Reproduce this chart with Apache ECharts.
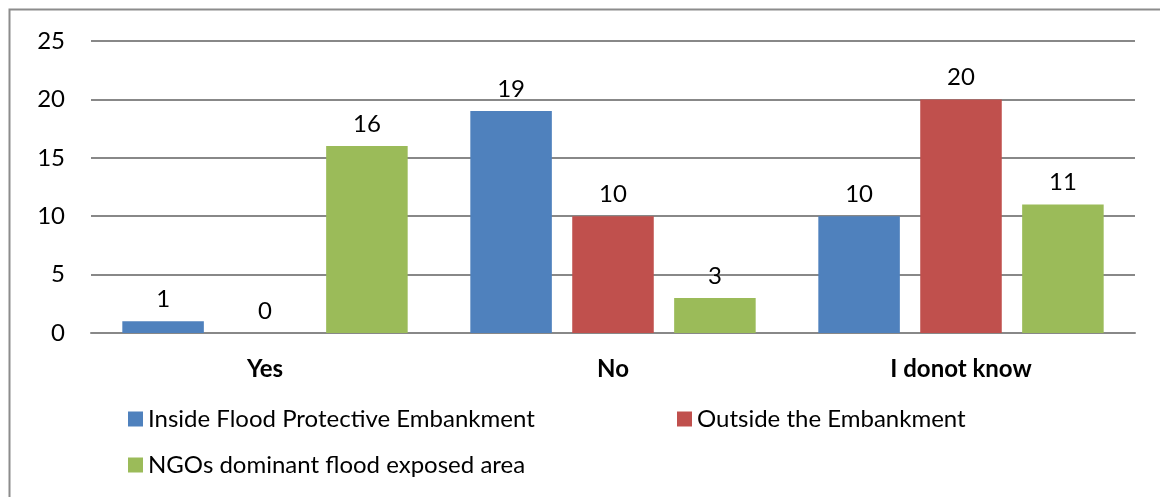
<!DOCTYPE html>
<html>
<head>
<meta charset="utf-8">
<script src="https://cdn.jsdelivr.net/npm/echarts@6/dist/echarts.min.js"></script>
<style>
  html, body { margin: 0; padding: 0; background: #fff; }
  #chart { width: 1160px; height: 497px; }
</style>
</head>
<body>
<div id="chart"></div>
<script>
// Survey responses per area
const categories = ['Yes', 'No', 'I donot know'];
const seriesNames = [
  'Inside Flood Protective Embankment',
  'Outside the Embankment',
  'NGOs dominant flood exposed area'
];
const insideValues = [1, 19, 10];
const outsideValues = [0, 10, 20];
const ngoValues = [16, 3, 11];
const yTicks = { min: 0, max: 25, interval: 5 };

const colors = ['#4F81BD', '#C0504D', '#9BBB59'];
const FONT = 'Lato';
const FS = 24;
const chart = echarts.init(document.getElementById('chart'), null, { renderer: 'canvas' });

function barSeries(name, data, color) {
  return {
    name: name,
    type: 'bar',
    data: data,
    barGap: '25%',
    barCategoryGap: '18%',
    itemStyle: { color: color },
    label: {
      show: true,
      position: 'top',
      distance: 10,
      color: '#000',
      fontFamily: FONT,
      fontSize: FS
    }
  };
}

function legendAt(name, left, top) {
  return {
    data: [name],
    left: left,
    top: top,
    icon: 'rect',
    itemWidth: 15,
    itemHeight: 15,
    itemGap: 0,
    textStyle: { color: '#000', fontFamily: FONT, fontSize: FS }
  };
}

chart.setOption({
  animation: false,
  backgroundColor: '#fff',
  graphic: [{
    type: 'rect',
    shape: { x: 9.5, y: 9.5, width: 1300, height: 700 },
    style: { fill: 'none', stroke: '#8c8c8c', lineWidth: 2 },
    silent: true
  }],
  grid: { left: 91, right: 25, top: 41, bottom: 164 },
  xAxis: {
    type: 'category',
    data: categories,
    axisLine: { show: true, lineStyle: { color: '#888', width: 2 } },
    axisTick: { show: false },
    axisLabel: {
      margin: 24,
      color: '#000',
      fontFamily: FONT,
      fontSize: FS,
      fontWeight: 'bold'
    }
  },
  yAxis: {
    type: 'value',
    min: yTicks.min,
    max: yTicks.max,
    interval: yTicks.interval,
    axisLine: { show: false },
    axisTick: { show: false },
    splitLine: { lineStyle: { color: '#888', width: 2 } },
    axisLabel: {
      margin: 26,
      color: '#000',
      fontFamily: FONT,
      fontSize: FS
    }
  },
  legend: [
    legendAt(seriesNames[0], 123, 402),
    legendAt(seriesNames[1], 672, 402),
    legendAt(seriesNames[2], 123, 448)
  ],
  series: [
    barSeries(seriesNames[0], insideValues, colors[0]),
    barSeries(seriesNames[1], outsideValues, colors[1]),
    barSeries(seriesNames[2], ngoValues, colors[2])
  ]
});
</script>
</body>
</html>
